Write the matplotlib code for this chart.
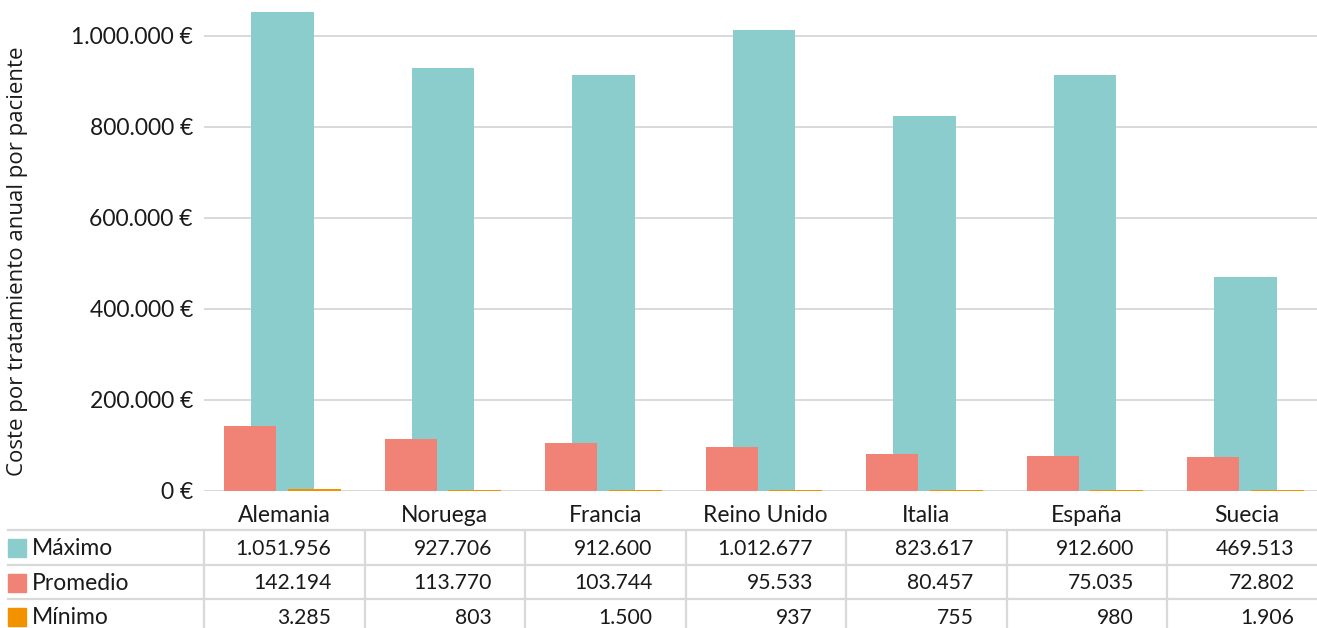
import matplotlib
matplotlib.use("Agg")
import matplotlib.pyplot as plt
from matplotlib.lines import Line2D
from matplotlib.patches import Rectangle
import numpy as np

# --- data ---
paises = ["Alemania", "Noruega", "Francia", "Reino Unido", "Italia", "España", "Suecia"]
maximo = [1051956, 927706, 912600, 1012677, 823617, 912600, 469513]
promedio = [142194, 113770, 103744, 95533, 80457, 75035, 72802]
minimo = [3285, 803, 1500, 937, 755, 980, 1906]
series_names = ["Máximo", "Promedio", "Mínimo"]
y_ticks = [0, 200000, 400000, 600000, 800000, 1000000]

C_MAX = "#8BCDCC"
C_PROM = "#F08375"
C_MIN = "#F39200"
GRID = "#D9D9D9"
TXT = "#1A1A1A"
FONT = "Lato"
FS_WORD = 16.5
FS_NUM = 15.2

W, H = 1317, 628
fig = plt.figure(figsize=(W / 100, H / 100), dpi=100)
plt.rcParams["font.family"] = [FONT, "DejaVu Sans"]


def fx(px):
    return px / W


def fy(py):
    return 1 - py / H


def fmt(v):
    return f"{v:,.0f}".replace(",", ".")


# plot area (pixel geometry)
ax_left, col_w = 204, 160.5
ax_right = ax_left + col_w * len(paises)
ax_bottom_px, ax_top_px = 490.5, 0
px_per_million = 455
ax = fig.add_axes([fx(ax_left), fy(ax_bottom_px), fx(ax_right - ax_left),
                   (ax_bottom_px - ax_top_px) / H])
ax.patch.set_alpha(0)

x = np.arange(len(paises))
ax.bar(x - 0.011, maximo, width=0.392, color=C_MAX, zorder=2)
ax.bar(x - 0.212, promedio, width=0.322, color=C_PROM, zorder=3)
ax.bar(x + 0.1875, minimo, width=0.332, color=C_MIN, zorder=4)

ax.set_xlim(-0.5, len(paises) - 0.5)
ax.set_ylim(0, 1000000 * (ax_bottom_px - ax_top_px) / px_per_million)
ax.set_yticks(y_ticks)
ax.set_yticklabels([fmt(t) + " €" for t in y_ticks], fontsize=16.5, color=TXT)
ax.set_xticks([])
ax.tick_params(axis="y", length=0, pad=8)
ax.grid(axis="y", color=GRID, linewidth=1.4, zorder=0)
for s in ax.spines.values():
    s.set_visible(False)
ax.axhline(0, color=GRID, linewidth=1.8, zorder=1)

fig.text(fx(18), fy(261), "Coste por tratamiento anual por paciente",
         rotation=90, ha="center", va="center", fontsize=16.0, color=TXT,
         family=["Open Sans", "DejaVu Sans"])

# --- data table under the chart ---
row_lines = [530, 564.5, 599, 633.5]
table_left = 8
for yl in row_lines:
    fig.add_artist(Line2D([fx(table_left), fx(ax_right)], [fy(yl), fy(yl)],
                          color=GRID, linewidth=1.6))
for i in range(len(paises) + 1):
    xl = ax_left + i * col_w
    fig.add_artist(Line2D([fx(xl), fx(xl)], [fy(row_lines[0]), fy(row_lines[-1])],
                          color=GRID, linewidth=1.6))

for i, p in enumerate(paises):
    fig.text(fx(ax_left + (i + 0.5) * col_w), fy(515), p, ha="center",
             va="center", fontsize=FS_WORD, color=TXT)

rows = [maximo, promedio, minimo]
colors = [C_MAX, C_PROM, C_MIN]
for r, (name, vals, c) in enumerate(zip(series_names, rows, colors)):
    yc = (row_lines[r] + row_lines[r + 1]) / 2 + 1.5
    fig.add_artist(Rectangle((fx(8), fy(yc + 8.5)), fx(18), 18 / H, color=c,
                             transform=fig.transFigure))
    fig.text(fx(32), fy(yc), name, ha="left", va="center", fontsize=FS_WORD,
             color=TXT)
    for i, v in enumerate(vals):
        fig.text(fx(ax_left + (i + 1) * col_w - 33), fy(yc), fmt(v),
                 ha="right", va="center", fontsize=FS_NUM, color=TXT)

fig.savefig("out.png", dpi=100, facecolor="white")
